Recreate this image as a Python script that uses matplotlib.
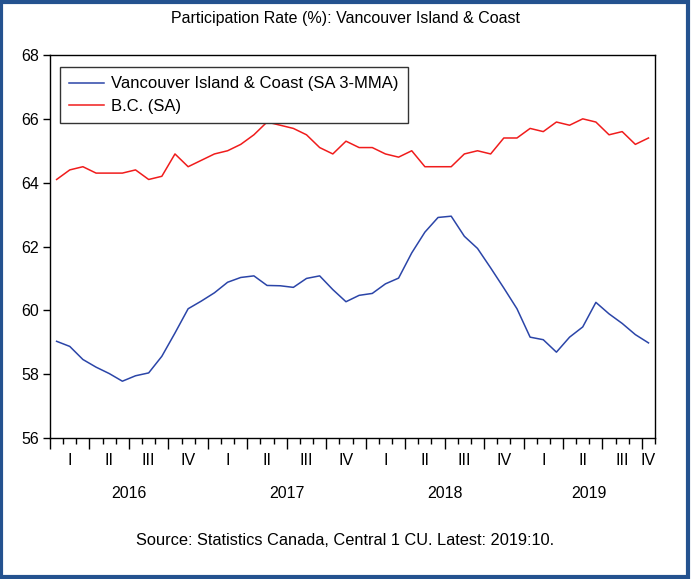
import numpy as np
import matplotlib
matplotlib.use("Agg")
import matplotlib.pyplot as plt
from matplotlib.patches import Rectangle

plt.rcParams['font.family'] = ['Liberation Sans', 'DejaVu Sans']

# monthly, Jan 2016 .. Oct 2019
van_island = [59.03, 58.87, 58.46, 58.22, 58.02, 57.78, 57.95, 58.04, 58.56, 59.29,
              60.05, 60.29, 60.55, 60.88, 61.03, 61.08, 60.78, 60.77, 60.72, 61.00,
              61.08, 60.65, 60.27, 60.47, 60.53, 60.83, 61.01, 61.80, 62.45, 62.91,
              62.95, 62.32, 61.94, 61.33, 60.70, 60.05, 59.16, 59.08, 58.69, 59.16,
              59.48, 60.25, 59.89, 59.59, 59.24, 58.98]
bc = [64.1, 64.4, 64.5, 64.3, 64.3, 64.3, 64.4, 64.1, 64.2, 64.9,
      64.5, 64.7, 64.9, 65.0, 65.2, 65.5, 65.9, 65.8, 65.7, 65.5,
      65.1, 64.9, 65.3, 65.1, 65.1, 64.9, 64.8, 65.0, 64.5, 64.5,
      64.5, 64.9, 65.0, 64.9, 65.4, 65.4, 65.7, 65.6, 65.9, 65.8,
      66.0, 65.9, 65.5, 65.6, 65.2, 65.4]
years = ['2016', '2017', '2018', '2019']
quarters = ['I', 'II', 'III', 'IV']

n = len(bc)
x = np.arange(n) + 0.5

fig = plt.figure(figsize=(6.91, 5.79), dpi=100)
ax = fig.add_axes([0.0724, 0.2435, 0.8756, 0.6615])

ax.plot(x, van_island, color='#2b45a8', lw=1.1, label='Vancouver Island & Coast (SA 3-MMA)')
ax.plot(x, bc, color='#f01c1c', lw=1.1, label='B.C. (SA)')

ax.set_xlim(0, n)
ax.set_ylim(56, 68)
ax.set_yticks(np.arange(56, 69, 2))
ax.tick_params(axis='y', direction='out', length=5, width=1, labelsize=11.5, pad=3)

ax.set_xticks(np.arange(0, n + 1, 3))
ax.set_xticks(np.arange(0, n + 1, 1), minor=True)
ax.set_xticklabels([])
ax.tick_params(axis='x', which='major', direction='out', length=8, width=1)
ax.tick_params(axis='x', which='minor', direction='out', length=4, width=1)

trans = ax.get_xaxis_transform()
for q in range(int(np.ceil(n / 3))):
    start = q * 3
    end = min(start + 3, n)
    ax.text((start + end) / 2, -0.06, quarters[q % 4], transform=trans,
            ha='center', va='center', fontsize=11.5)
for k, yr in enumerate(years):
    start = k * 12
    end = min(start + 12, n)
    ax.text((start + end) / 2, -0.145, yr, transform=trans,
            ha='center', va='center', fontsize=11.5)

for s in ax.spines.values():
    s.set_linewidth(1)

leg = ax.legend(loc='upper left', bbox_to_anchor=(0.016, 0.968), fontsize=12,
                fancybox=False, edgecolor='#333333', framealpha=1,
                handlelength=2.1, handletextpad=0.45, borderpad=0.55,
                labelspacing=0.45, borderaxespad=0)
leg.get_frame().set_linewidth(1)

fig.text(0.5, 0.968, 'Participation Rate (%): Vancouver Island & Coast',
         ha='center', va='center', fontsize=11.5)
fig.text(0.5, 0.067, 'Source: Statistics Canada, Central 1 CU. Latest: 2019:10.',
         ha='center', va='center', fontsize=11.8)

fig.patches.append(Rectangle((0.002, 0.003), 0.994, 0.993, transform=fig.transFigure,
                             fill=False, edgecolor='#24528f', lw=3))

fig.savefig('out.png', dpi=100)
